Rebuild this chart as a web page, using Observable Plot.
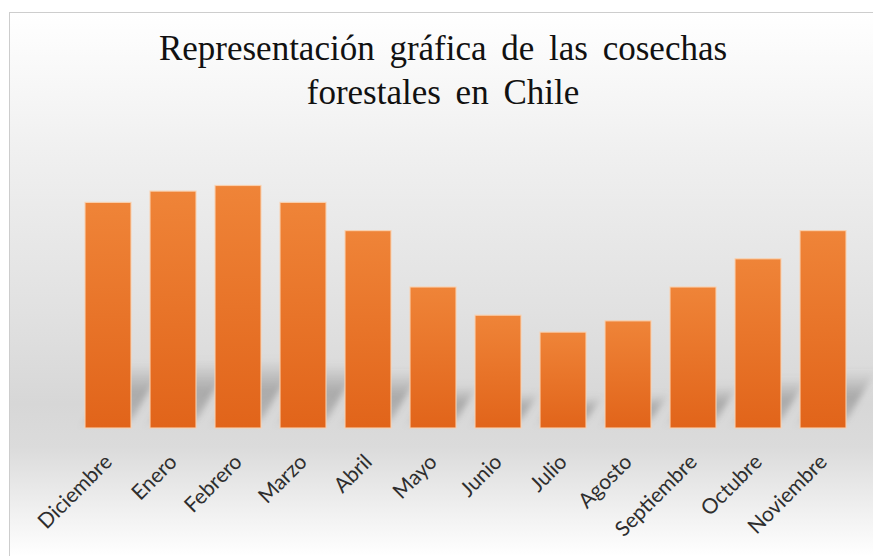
<!DOCTYPE html>
<html>
<head>
<meta charset="utf-8">
<script src="https://cdn.jsdelivr.net/npm/d3@7"></script>
<script src="https://cdn.jsdelivr.net/npm/@observablehq/plot@0.6"></script>
<style>
  html, body { margin: 0; padding: 0; background: #ffffff; }
  #page { position: relative; width: 873px; height: 556px; overflow: hidden; background: #ffffff; }
  #panel {
    position: absolute; left: 9px; top: 12px; right: 0; bottom: 0;
    border-left: 1px solid #cdcdcd; border-top: 1px solid #cdcdcd;
    background: linear-gradient(to bottom, #ffffff 0%, #f0f0f0 25%, #e1e1e1 55%, #d7d7d7 72%, #dbdbdb 80%, #ffffff 100%);
  }
  #title {
    position: absolute; left: 9px; width: 868px; top: 27px;
    text-align: center; font-family: "Liberation Serif", "Times New Roman", serif;
    font-size: 35px; line-height: 44px; color: #111111; word-spacing: 6px;
  }
  #chart { position: absolute; left: 0; top: 0; }
</style>
</head>
<body>
<div id="page">
  <div id="panel"></div>
  <div id="chart"></div>
  <div id="title">Representación gráfica de las cosechas<br>forestales en Chile</div>
</div>
<script>
// Meses de cosecha y volumen relativo cosechado en cada uno
const meses = ["Diciembre", "Enero", "Febrero", "Marzo", "Abril", "Mayo", "Junio", "Julio", "Agosto", "Septiembre", "Octubre", "Noviembre"];
const cosechas = [8, 8.4, 8.6, 8, 7, 5, 4, 3.4, 3.8, 5, 6, 7];

const datos = meses.map((mes, i) => ({mes, valor: cosechas[i]}));

const chart = Plot.plot({
  width: 873,
  height: 556,
  marginLeft: 0,
  marginRight: 0,
  marginTop: 0,
  marginBottom: 128,
  style: {background: "transparent", fontFamily: "Lato, 'Open Sans', sans-serif", fontSize: "21px", color: "#333333", overflow: "visible"},
  x: {domain: meses, range: [64.5, 866], padding: 0.287, axis: null},
  y: {domain: [0, 10], range: [428, 146], axis: null},
  marks: [
    // sombra en perspectiva al pie de cada barra
    Plot.barY(datos, {x: "mes", y: d => d.valor * 0.26, fill: "url(#gradSombra)"}),
    Plot.barY(datos, {x: "mes", y: "valor", fill: "url(#gradBarra)", stroke: "#f9d2b0", strokeOpacity: 0.9, strokeWidth: 1.2}),
    Plot.axisX({tickRotate: -45, tickSize: 0, tickPadding: 30, fill: "#2e2e2e", label: null})
  ]
});

chart.insertAdjacentHTML("afterbegin",
  `<defs>
     <linearGradient id="gradBarra" x1="0" y1="0" x2="0" y2="1">
       <stop offset="0" stop-color="#ef8438"/>
       <stop offset="1" stop-color="#e1641a"/>
     </linearGradient>
     <linearGradient id="gradSombra" x1="0" y1="0" x2="0" y2="1">
       <stop offset="0" stop-color="#707070" stop-opacity="0"/>
       <stop offset="0.5" stop-color="#707070" stop-opacity="0.45"/>
       <stop offset="1" stop-color="#707070" stop-opacity="0.3"/>
     </linearGradient>
     <filter id="desenfoque" x="-20%" y="-20%" width="140%" height="140%">
       <feGaussianBlur stdDeviation="3.5"/>
     </filter>
   </defs>`);

// inclina y difumina la sombra desde la base de las barras
const base = chart.scale("y").apply(0);
const capas = chart.querySelectorAll('g[aria-label="bar"]');
const sombra = capas[0];
const envoltura = document.createElementNS("http://www.w3.org/2000/svg", "g");
sombra.parentNode.insertBefore(envoltura, sombra);
envoltura.appendChild(sombra);
envoltura.setAttribute("transform", `translate(0,${base - 6}) skewX(-30) translate(0,${-base})`);
envoltura.setAttribute("filter", "url(#desenfoque)");

document.getElementById("chart").appendChild(chart);
</script>
</body>
</html>
